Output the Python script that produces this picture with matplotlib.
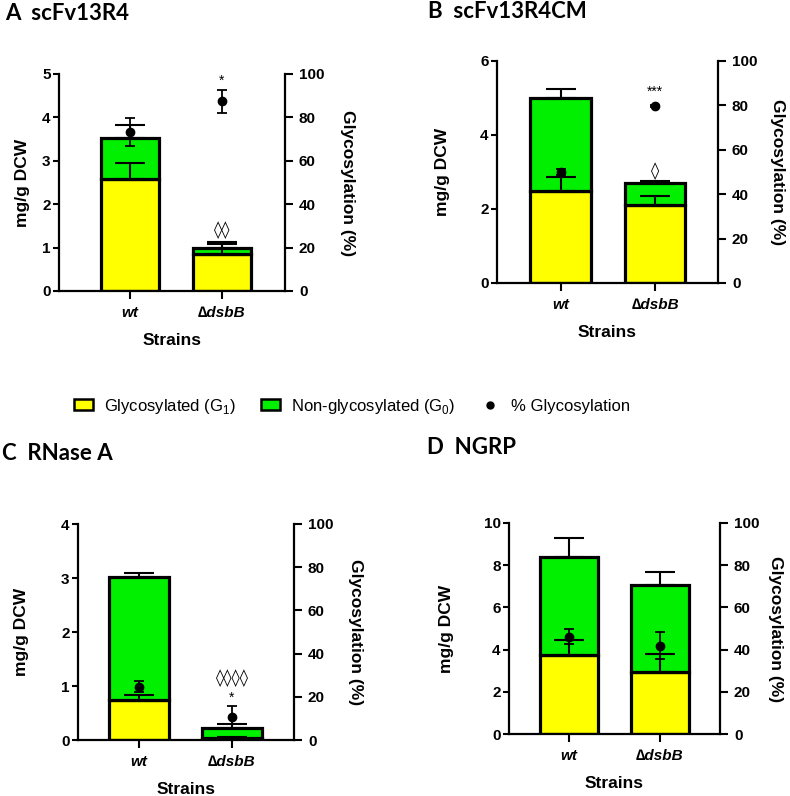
import matplotlib
matplotlib.use("Agg")
import matplotlib.pyplot as plt
from matplotlib.patches import Patch
from matplotlib.lines import Line2D

plt.rcParams['font.family'] = ['Liberation Sans', 'DejaVu Sans']
plt.rcParams['mathtext.fontset'] = 'custom'
plt.rcParams['mathtext.rm'] = 'Liberation Sans'

YELLOW = '#ffff00'
GREEN = '#00f000'

strains = ["wt", "\u2206dsbB"]

# panel A  scFv13R4
g1_A = [2.57, 0.85]
g1_err_A = [0.37, 0.23]
g0_A = [0.95, 0.13]
tot_err_A = [0.30, 0.16]
glyc_A = [73.3, 87.5]
glyc_err_A = [6.6, 5.3]

# panel B  scFv13R4CM
g1_B = [2.49, 2.10]
g1_err_B = [0.38, 0.25]
g0_B = [2.50, 0.61]
tot_err_B = [0.25, 0.04]
glyc_B = [50.0, 79.7]
glyc_err_B = [1.5, 0.5]

# panel C  RNase A
g1_C = [0.74, 0.03]
g1_err_C = [0.09, 0.02]
g0_C = [2.28, 0.19]
tot_err_C = [0.08, 0.08]
glyc_C = [24.7, 10.8]
glyc_err_C = [2.5, 5.1]

# panel D  NGRP
g1_D = [3.75, 2.93]
g1_err_D = [0.71, 0.85]
g0_D = [4.64, 4.14]
tot_err_D = [0.90, 0.59]
glyc_D = [46.2, 41.8]
glyc_err_D = [3.4, 6.4]

# significance marks: (text, strain index, value, which axis)
marks_A = [("*", 1, 96.8, "right"), ("\u25ca\u25ca", 1, 1.4, "left")]
marks_B = [("***", 1, 86.2, "right"), ("\u25ca", 1, 3.03, "left")]
marks_C = [("*", 1, 19.5, "right"), ("\u25ca\u25ca\u25ca\u25ca", 1, 1.14, "left")]
marks_D = []

W, H = 790, 796
fig = plt.figure(figsize=(W / 100, H / 100), dpi=100)


def px_axes(left, top, right, bottom):
    return fig.add_axes([left / W, 1 - bottom / H, (right - left) / W, (bottom - top) / H])


def draw_panel(box, xlim, width, ymax, ystep, g1, g1_err, g0, tot_err, glyc, glyc_err, marks):
    ax = px_axes(*box)
    x = [0, 1]
    tot = [a + b for a, b in zip(g1, g0)]
    ax.bar(x, g1, width=width, color=YELLOW, edgecolor='black', linewidth=2.3, zorder=2)
    ax.bar(x, g0, width=width, bottom=g1, color=GREEN, edgecolor='black', linewidth=2.3, zorder=2)
    ax.errorbar(x, g1, yerr=[[0, 0], g1_err], fmt='none', ecolor='black',
                elinewidth=1.5, capsize=10.5, capthick=1.5, zorder=3)
    ax.errorbar(x, tot, yerr=[[0, 0], tot_err], fmt='none', ecolor='black',
                elinewidth=1.5, capsize=10.5, capthick=1.5, zorder=3)
    ax.set_xlim(*xlim)
    ax.set_ylim(0, ymax)
    ax.set_yticks(range(0, ymax + 1, ystep))
    ax.set_xticks(x)
    ax.set_xticklabels(strains, fontstyle='italic', fontweight='bold', fontsize=11)
    for lab in ax.get_yticklabels():
        lab.set_fontweight('bold')
    ax.tick_params(axis='y', labelsize=11, length=4, width=1.5, pad=2)
    ax.tick_params(axis='x', length=6, width=1.5, pad=5)
    for s in ['top', 'right']:
        ax.spines[s].set_visible(False)
    for s in ['left', 'bottom']:
        ax.spines[s].set_linewidth(1.6)
    ax.set_xlabel("Strains", fontsize=12.5, fontweight='bold', labelpad=9)

    ax2 = ax.twinx()
    ax2.set_ylim(0, 100)
    ax2.set_yticks(range(0, 101, 20))
    ax2.errorbar(x, glyc, yerr=glyc_err, fmt='o', color='black', markersize=6,
                 elinewidth=1.3, capsize=3.5, capthick=1.3)
    for lab in ax2.get_yticklabels():
        lab.set_fontweight('bold')
    ax2.tick_params(axis='y', labelsize=11, length=6, width=1.5, pad=4)
    for s in ['top', 'left', 'bottom']:
        ax2.spines[s].set_visible(False)
    ax2.spines['right'].set_linewidth(1.6)

    for txt, i, val, side in marks:
        target = ax2 if side == "right" else ax
        if txt.startswith("*"):
            target.text(i, val, txt, ha='center', va='center', fontsize=10)
        else:
            target.text(i, val, txt, ha='center', va='center', fontsize=12,
                        family=['DejaVu Sans'])
    return ax, ax2


draw_panel((59, 74, 285, 291), (-0.77, 1.685), 0.63, 5, 1,
           g1_A, g1_err_A, g0_A, tot_err_A, glyc_A, glyc_err_A, marks_A)
draw_panel((497, 61, 718, 283), (-0.675, 1.668), 0.64, 6, 2,
           g1_B, g1_err_B, g0_B, tot_err_B, glyc_B, glyc_err_B, marks_B)
draw_panel((78, 524, 294, 740), (-0.656, 1.667), 0.645, 4, 1,
           g1_C, g1_err_C, g0_C, tot_err_C, glyc_C, glyc_err_C, marks_C)
draw_panel((509, 523, 720, 734), (-0.66, 1.66), 0.63, 10, 2,
           g1_D, g1_err_D, g0_D, tot_err_D, glyc_D, glyc_err_D, marks_D)

# axis titles placed in pixels
left_labels = [(23, 183), (443, 172), (22, 632), (447, 629)]
right_labels = [(347, 183), (778, 172), (355, 632), (775, 629)]
for (lx, ly), (rx, ry) in zip(left_labels, right_labels):
    fig.text(lx / W, 1 - ly / H, "mg/g DCW", rotation=90, ha='center', va='center',
             fontsize=12.5, fontweight='bold')
    fig.text(rx / W, 1 - ry / H, "Glycosylation (%)", rotation=270, ha='center', va='center',
             fontsize=12.5, fontweight='bold')

titles = ["A  scFv13R4", "B  scFv13R4CM", "C  RNase A", "D  NGRP"]
title_pos = [(5, 13), (428, 12), (2, 453), (427, 447)]
for t, (tx, ty) in zip(titles, title_pos):
    fig.text(tx / W, 1 - ty / H, t, ha='left', va='center', fontsize=16,
             fontweight='bold', family=['Lato', 'DejaVu Sans'])

handles = [
    Patch(facecolor=YELLOW, edgecolor='black', linewidth=1.8),
    Patch(facecolor=GREEN, edgecolor='black', linewidth=1.8),
    Line2D([], [], marker='o', color='black', linestyle='none', markersize=5),
]
labels = [r"Glycosylated (G$_{\mathrm{1}}$)", r"Non-glycosylated (G$_{\mathrm{0}}$)", "% Glycosylation"]
fig.legend(handles, labels, loc='center', bbox_to_anchor=(352 / W, 1 - 406 / H), ncol=3,
           frameon=False, fontsize=12, handlelength=1.1, handleheight=0.6,
           handletextpad=0.7, columnspacing=1.5)

fig.savefig("out.png", dpi=100)
